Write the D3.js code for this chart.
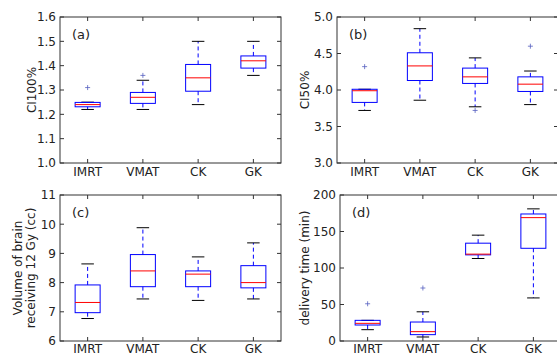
<!DOCTYPE html>
<html>
<head>
<meta charset="utf-8">
<script src="https://cdn.jsdelivr.net/npm/d3@7"></script>
<style>
  html, body { margin: 0; padding: 0; background: #fff; }
  svg { display: block; font-family: "DejaVu Sans", sans-serif; }
</style>
</head>
<body>
<svg id="chart" width="557" height="355"></svg>
<script>
// categories on every panel
const groups = ["IMRT", "VMAT", "CK", "GK"];

// box stats per group: [whisker low, q1, median, q3, whisker high]
const ci100Stats = [
    [1.22, 1.231, 1.24, 1.249, 1.25],
    [1.22, 1.245, 1.27, 1.29, 1.34],
    [1.24, 1.295, 1.35, 1.405, 1.50],
    [1.36, 1.39, 1.42, 1.44, 1.50]
];
const ci100Outliers = [[1.31], [1.36], [], []];
const ci100Ticks = [1.0, 1.1, 1.2, 1.3, 1.4, 1.5, 1.6];

const ci50Stats = [
    [3.72, 3.83, 3.99, 4.01, 4.01],
    [3.86, 4.13, 4.33, 4.51, 4.84],
    [3.77, 4.09, 4.18, 4.30, 4.44],
    [3.80, 3.98, 4.08, 4.18, 4.26]
];
const ci50Outliers = [[4.32], [], [3.72], [4.60]];
const ci50Ticks = [3.0, 3.5, 4.0, 4.5, 5.0];

const v12Stats = [
    [6.77, 6.97, 7.32, 7.92, 8.64],
    [7.44, 7.86, 8.40, 8.96, 9.88],
    [7.39, 7.86, 8.29, 8.40, 8.88],
    [7.44, 7.82, 8.00, 8.58, 9.36]
];
const v12Outliers = [[], [], [], []];
const v12Ticks = [6, 7, 8, 9, 10, 11];

const timeStats = [
    [15.5, 21.9, 24.2, 28.3, 28.3],
    [5.5, 8.7, 12.8, 26, 40],
    [113, 118, 119, 134, 145],
    [59, 127, 169, 174, 181]
];
const timeOutliers = [[51], [72.6], [], []];
const timeTicks = [0, 50, 100, 150, 200];

const svg = d3.select("#chart");
const plotW = 221;
const plotH = 146;
const tickLen = 4;

const drawPanel = (left, top, stats, outliers, ticks, fmt, yLabel, labelX, letter, xLabelGap) => {
    const g = svg.append("g").attr("transform", `translate(${left},${top})`);

    const x = d3.scalePoint()
        .domain(groups)
        .range([0, plotW])
        .padding(0.5);

    const y = d3.scaleLinear()
        .domain(d3.extent(ticks))
        .range([plotH, 0]);

    const boxW = 25;

    groups.forEach((grp, i) => {
        const [lo, q1, med, q3, hi] = stats[i];
        const cx = x(grp);

        // whiskers (dashed blue)
        g.append("line")
            .attr("x1", cx).attr("x2", cx)
            .attr("y1", y(q3)).attr("y2", y(hi))
            .attr("stroke", "#0000ff")
            .attr("stroke-dasharray", "4,3");
        g.append("line")
            .attr("x1", cx).attr("x2", cx)
            .attr("y1", y(q1)).attr("y2", y(lo))
            .attr("stroke", "#0000ff")
            .attr("stroke-dasharray", "4,3");

        // caps
        [lo, hi].forEach(v => {
            g.append("line")
                .attr("x1", cx - boxW / 4).attr("x2", cx + boxW / 4)
                .attr("y1", y(v)).attr("y2", y(v))
                .attr("stroke", "#000");
        });

        g.append("rect")
            .attr("x", cx - boxW / 2)
            .attr("y", y(q3))
            .attr("width", boxW)
            .attr("height", y(q1) - y(q3))
            .attr("fill", "none")
            .attr("stroke", "#0000ff");

        g.append("line")
            .attr("x1", cx - boxW / 2).attr("x2", cx + boxW / 2)
            .attr("y1", y(med)).attr("y2", y(med))
            .attr("stroke", "#ff0000");

        // fliers as "+"
        outliers[i].forEach(v => {
            g.append("path")
                .attr("d", `M${cx - 2.5},${y(v)}h5M${cx},${y(v) - 2.5}v5`)
                .attr("stroke", "#5560c0")
                .attr("stroke-width", 0.8);
        });
    });

    // frame
    g.append("rect")
        .attr("width", plotW)
        .attr("height", plotH)
        .attr("fill", "none")
        .attr("stroke", "#333");

    // inward ticks on all sides
    ticks.forEach(t => {
        g.append("line").attr("x1", 0).attr("x2", tickLen)
            .attr("y1", y(t)).attr("y2", y(t)).attr("stroke", "#333");
        g.append("line").attr("x1", plotW - tickLen).attr("x2", plotW)
            .attr("y1", y(t)).attr("y2", y(t)).attr("stroke", "#333");
        g.append("text")
            .attr("x", -4)
            .attr("y", y(t))
            .attr("dy", "0.36em")
            .attr("text-anchor", "end")
            .attr("font-size", 12)
            .attr("fill", "#222")
            .text(fmt(t));
    });
    groups.forEach(grp => {
        g.append("line").attr("x1", x(grp)).attr("x2", x(grp))
            .attr("y1", plotH).attr("y2", plotH - tickLen).attr("stroke", "#333");
        g.append("line").attr("x1", x(grp)).attr("x2", x(grp))
            .attr("y1", 0).attr("y2", tickLen).attr("stroke", "#333");
        g.append("text")
            .attr("x", x(grp))
            .attr("y", plotH + xLabelGap)
            .attr("text-anchor", "middle")
            .attr("font-size", 12)
            .attr("fill", "#222")
            .text(grp);
    });

    g.append("text")
        .attr("x", 12)
        .attr("y", 22)
        .attr("font-size", 13)
        .attr("fill", "#222")
        .text(letter);

    // y label, one or two lines
    yLabel.forEach((line, k) => {
        svg.append("text")
            .attr("transform", `translate(${labelX[k]},${top + plotH / 2}) rotate(-90)`)
            .attr("dy", "0.36em")
            .attr("text-anchor", "middle")
            .attr("font-size", 12)
            .attr("fill", "#222")
            .text(line);
    });
};

drawPanel(60, 17, ci100Stats, ci100Outliers, ci100Ticks, d3.format(".1f"),
    ["CI100%"], [32], "(a)", 13);
drawPanel(337, 17, ci50Stats, ci50Outliers, ci50Ticks, d3.format(".1f"),
    ["CI50%"], [305], "(b)", 13);
drawPanel(60, 195, v12Stats, v12Outliers, v12Ticks, d3.format("d"),
    ["Volume of brain", "receiving 12 Gy (cc)"], [18, 31], "(c)", 11.5);
drawPanel(340, 195, timeStats, timeOutliers, timeTicks, d3.format("d"),
    ["delivery time (min)"], [305], "(d)", 11.5);
</script>
</body>
</html>
